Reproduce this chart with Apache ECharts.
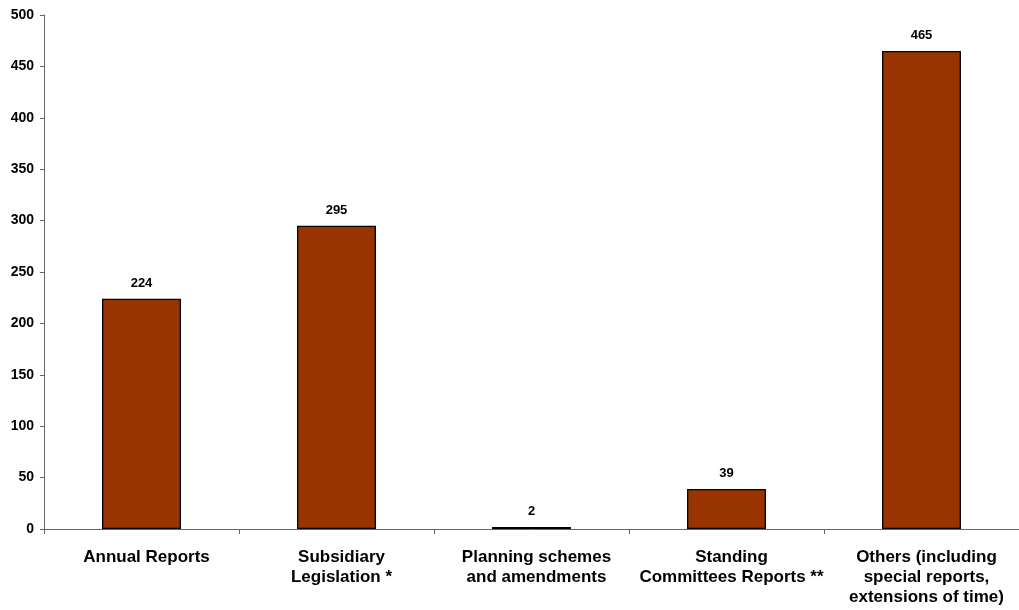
<!DOCTYPE html>
<html><head><meta charset="utf-8">
<script src="https://cdn.jsdelivr.net/npm/echarts@6/dist/echarts.min.js"></script>
<style>html,body{margin:0;padding:0;background:#fff}#c{width:1019px;height:610px}</style>
</head><body><div id="c"></div>
<script>
const categories = ["Annual Reports", "Subsidiary\nLegislation *", "Planning schemes\nand amendments", "Standing\nCommittees Reports **", "Others (including\nspecial reports,\nextensions of time)"];
const values = [224, 295, 2, 39, 465];
const yTicks = [0, 50, 100, 150, 200, 250, 300, 350, 400, 450, 500];

const chart = echarts.init(document.getElementById('c'), null, {renderer: 'canvas'});
chart.setOption({
  animation: false,
  grid: {left: 44, right: 0, top: 15, bottom: 81, containLabel: false},
  xAxis: {
    type: 'category',
    data: categories,
    axisLine: {lineStyle: {color: '#666', width: 1}},
    axisTick: {show: true, length: 5, lineStyle: {color: '#666'}},
    axisLabel: {color: '#000', fontFamily: 'Liberation Sans, Arial', fontWeight: 'bold', fontSize: 17, margin: 18, lineHeight: 20, interval: 0, padding: [0, 0, 0, 10]}
  },
  yAxis: {
    type: 'value',
    min: yTicks[0], max: yTicks[yTicks.length - 1], interval: 50,
    axisLine: {show: true, lineStyle: {color: '#666', width: 1}},
    axisTick: {show: true, length: 4, lineStyle: {color: '#666'}},
    splitLine: {show: false},
    axisLabel: {color: '#000', fontFamily: 'Liberation Sans, Arial', fontWeight: 'bold', fontSize: 14, margin: 10}
  },
  series: [{
    type: 'bar',
    data: values,
    barWidth: '40.5%',
    itemStyle: {color: '#993300', borderColor: '#000', borderWidth: 1.3},
    label: {show: true, position: 'top', distance: 9, color: '#000', fontFamily: 'Liberation Sans, Arial', fontWeight: 'bold', fontSize: 13}
  }]
});
</script></body></html>
